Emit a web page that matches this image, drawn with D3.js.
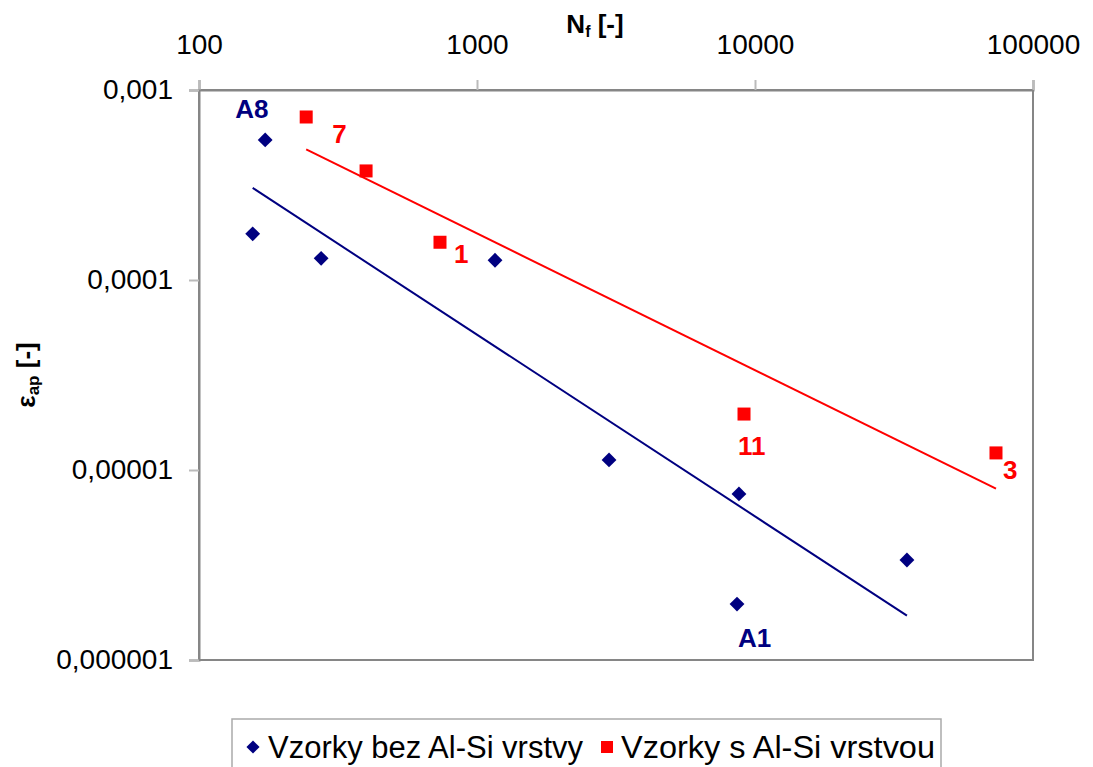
<!DOCTYPE html>
<html>
<head>
<meta charset="utf-8">
<script src="https://cdn.jsdelivr.net/npm/d3@7"></script>
<style>
  body { margin: 0; background: #fff; }
  text { font-family: "Liberation Sans", Arial, sans-serif; }
</style>
</head>
<body>
<script>
// samples without Al-Si coating
const bezLabels = ["A8", "", "", "", "", "", "A1", ""];
const bezN      = [173, 156, 275, 1161, 2985, 8756, 8616, 35200];
const bezEps    = [5.46e-4, 1.75e-4, 1.30e-4, 1.27e-4, 1.13e-5, 7.48e-6, 1.97e-6, 3.36e-6];

// samples with Al-Si coating
const sLabels = ["7", "", "1", "11", "3"];
const sN      = [243, 399, 736, 9130, 73600];
const sEps    = [7.21e-4, 3.75e-4, 1.58e-4, 1.97e-5, 1.23e-5];

const xTicks = [100, 1000, 10000, 100000];
const yTicks = [1e-3, 1e-4, 1e-5, 1e-6];
const yTickLabels = ["0,001", "0,0001", "0,00001", "0,000001"];
const seriesNames = ["Vzorky bez Al-Si vrstvy", "Vzorky s Al-Si vrstvou"];

const W = 1093, H = 767;
const plot = { left: 199, right: 1033, top: 90, bottom: 660 };
const navy = "#000080", red = "#ff0000";

// where each point label sits relative to its point
const labelOffset = {
  "A8": [-30, -22], "A1": [1, 43],
  "7": [26, 26], "1": [14, 21], "11": [-6, 41], "3": [7, 26]
};

const svg = d3.select("body").append("svg")
  .attr("width", W).attr("height", H);

const x = d3.scaleLog().domain([100, 100000]).range([plot.left, plot.right]);
const y = d3.scaleLog().domain([1e-6, 1e-3]).range([plot.bottom, plot.top]);

// plot frame
svg.append("rect")
  .attr("x", plot.left).attr("y", plot.top)
  .attr("width", plot.right - plot.left).attr("height", plot.bottom - plot.top)
  .attr("fill", "none").attr("stroke", "#868686").attr("stroke-width", 2);

// axes
const xAxis = svg.append("g")
  .attr("transform", `translate(0,${plot.top})`)
  .call(d3.axisTop(x).tickValues(xTicks).tickFormat(d3.format("d")).tickSize(10).tickPadding(26));
const yAxis = svg.append("g")
  .attr("transform", `translate(${plot.left},0)`)
  .call(d3.axisLeft(y).tickValues(yTicks).tickFormat((d, i) => yTickLabels[i]).tickSize(10).tickPadding(16));

[xAxis, yAxis].forEach(g => {
  g.select(".domain").attr("stroke", "#868686").attr("stroke-width", 2);
  g.selectAll(".tick line").attr("stroke", "#bbb").attr("stroke-width", 2);
  g.selectAll(".tick text").attr("font-size", 28).attr("fill", "#000")
    .attr("font-family", "Liberation Sans, Arial, sans-serif");
});
xAxis.selectAll(".tick text").attr("dy", 0);

// axis titles
const xt = svg.append("text").attr("x", 595).attr("y", 33)
  .attr("text-anchor", "middle").attr("font-size", 26).attr("font-weight", "bold");
xt.append("tspan").text("N");
xt.append("tspan").attr("font-size", 16).attr("dy", 4).text("f");
xt.append("tspan").attr("dy", -4).text(" [-]");

const yt = svg.append("text")
  .attr("transform", `translate(35,${(plot.top + plot.bottom) / 2}) rotate(-90)`)
  .attr("text-anchor", "middle").attr("font-size", 26).attr("font-weight", "bold");
yt.append("tspan").text("ε");
yt.append("tspan").attr("font-size", 17).attr("dy", 4).text("ap");
yt.append("tspan").attr("dy", -4).text(" [-]");

// power-law trend line: least squares in log-log space
function trend(ns, es) {
  const lx = ns.map(Math.log10), ly = es.map(Math.log10);
  const mx = d3.mean(lx), my = d3.mean(ly);
  const b = d3.sum(lx, (v, i) => (v - mx) * (ly[i] - my)) / d3.sum(lx, v => (v - mx) ** 2);
  const a = my - b * mx;
  const ext = d3.extent(ns);
  return ext.map(n => [n, Math.pow(10, a + b * Math.log10(n))]);
}

const line = d3.line().x(d => x(d[0])).y(d => y(d[1]));

svg.append("path").datum(trend(bezN, bezEps))
  .attr("d", line).attr("fill", "none").attr("stroke", navy).attr("stroke-width", 2);
svg.append("path").datum(trend(sN, sEps))
  .attr("d", line).attr("fill", "none").attr("stroke", red).attr("stroke-width", 2);

// markers
const diamond = d3.symbol().type(d3.symbolDiamond2).size(140);
svg.selectAll(".bez").data(bezN).enter().append("path")
  .attr("class", "bez")
  .attr("d", diamond)
  .attr("transform", (d, i) => `translate(${x(d)},${y(bezEps[i])})`)
  .attr("fill", navy);

svg.selectAll(".s").data(sN).enter().append("rect")
  .attr("class", "s")
  .attr("x", d => x(d) - 6.5)
  .attr("y", (d, i) => y(sEps[i]) - 6.5)
  .attr("width", 13).attr("height", 13)
  .attr("fill", red);

// point labels
function addLabels(ns, es, labels, color) {
  labels.forEach((t, i) => {
    if (!t) return;
    const off = labelOffset[t];
    svg.append("text")
      .attr("x", x(ns[i]) + off[0]).attr("y", y(es[i]) + off[1])
      .attr("font-size", 26).attr("font-weight", "bold").attr("fill", color)
      .text(t);
  });
}
addLabels(bezN, bezEps, bezLabels, navy);
addLabels(sN, sEps, sLabels, red);

// legend
const lg = svg.append("g");
lg.append("rect").attr("x", 232).attr("y", 719).attr("width", 709).attr("height", 70)
  .attr("fill", "#fff").attr("stroke", "#aaa").attr("stroke-width", 1.5);
lg.append("path").attr("d", d3.symbol().type(d3.symbolDiamond2).size(110))
  .attr("transform", "translate(253,747)").attr("fill", navy);
lg.append("text").attr("x", 268).attr("y", 758).attr("font-size", 31)
  .attr("textLength", 315).attr("lengthAdjust", "spacingAndGlyphs").text(seriesNames[0]);
lg.append("rect").attr("x", 601).attr("y", 741).attr("width", 12).attr("height", 12).attr("fill", red);
lg.append("text").attr("x", 621).attr("y", 758).attr("font-size", 31)
  .attr("textLength", 314).attr("lengthAdjust", "spacingAndGlyphs").text(seriesNames[1]);
</script>
</body>
</html>
